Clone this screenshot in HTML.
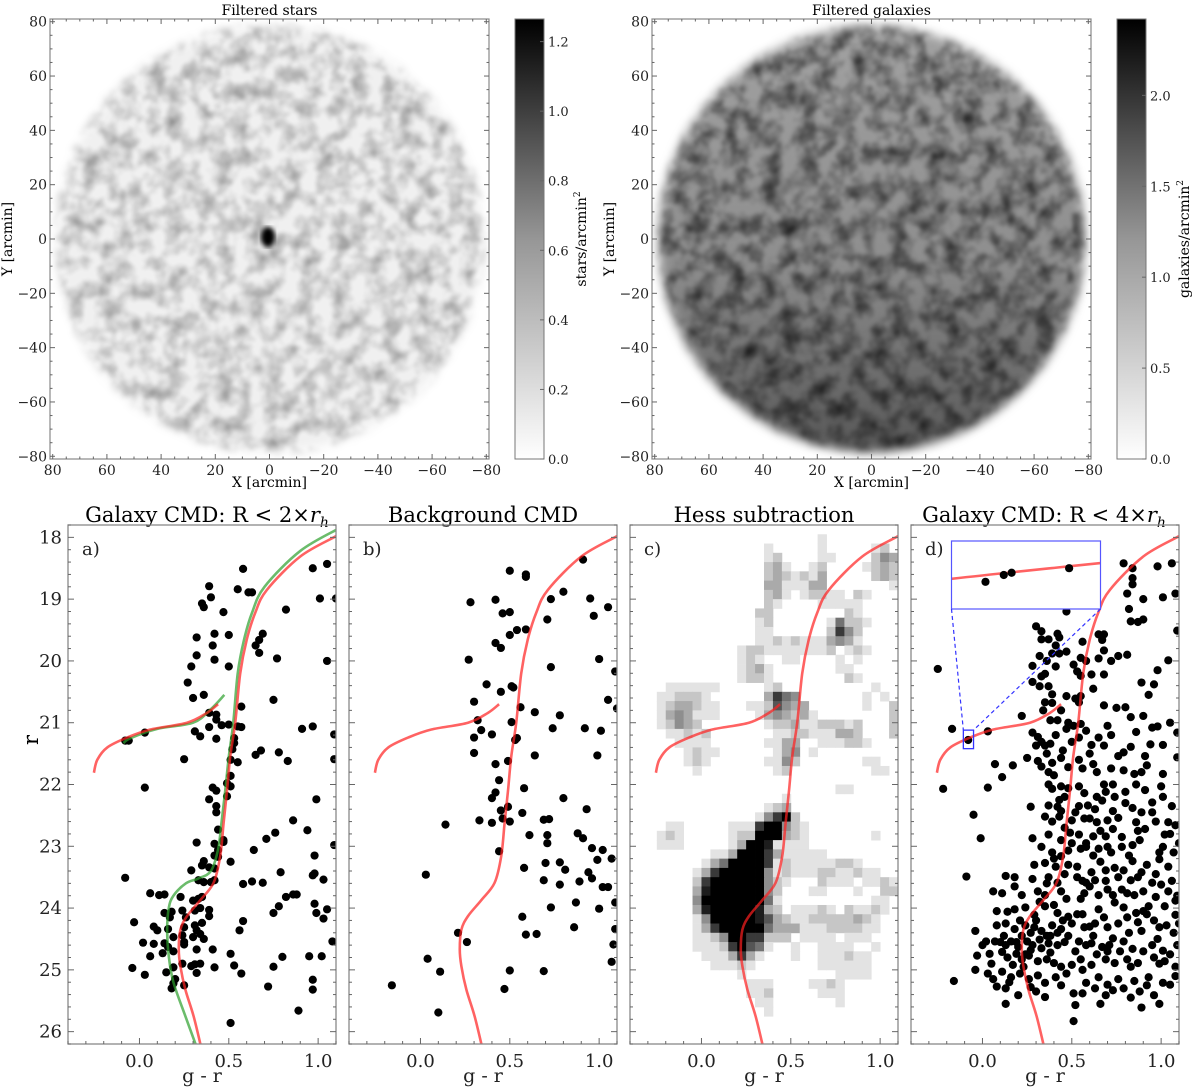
<!DOCTYPE html>
<html><head><meta charset="utf-8"><style>
html,body{margin:0;padding:0;background:#fff}
svg{display:block;font-family:"DejaVu Serif","Liberation Serif",serif}
</style></head><body>
<svg id="fig" width="1200" height="1091" viewBox="0 0 1200 1091" xmlns="http://www.w3.org/2000/svg">
<defs>
<filter id="noiseS" x="0" y="0" width="100%" height="100%"><feTurbulence type="fractalNoise" baseFrequency="0.06" numOctaves="3" seed="4"/><feColorMatrix type="matrix" values="0 0 0 0 0  0 0 0 0 0  0 0 0 0 0  -1.6 0 0 0 1.0"/><feGaussianBlur stdDeviation="1.5"/></filter>
<filter id="noiseG" x="0" y="0" width="100%" height="100%"><feTurbulence type="fractalNoise" baseFrequency="0.055" numOctaves="3" seed="9"/><feColorMatrix type="matrix" values="0 0 0 0 0  0 0 0 0 0  0 0 0 0 0  -1.8 0 0 0 1.15"/><feGaussianBlur stdDeviation="1.5"/></filter>
<filter id="soft"><feGaussianBlur stdDeviation="5"/></filter>
<filter id="soft2"><feGaussianBlur stdDeviation="2.5"/></filter>
<mask id="diskS"><circle cx="269.5" cy="239" r="213" fill="#fff" filter="url(#soft)"/></mask>
<mask id="diskG"><circle cx="871.5" cy="239" r="213" fill="#fff" filter="url(#soft)"/></mask>
<linearGradient id="cbar" x1="0" y1="1" x2="0" y2="0"><stop offset="0" stop-color="#fff"/><stop offset="0.5" stop-color="#969696"/><stop offset="1" stop-color="#000"/></linearGradient>
<linearGradient id="galGrad" x1="0" y1="0" x2="0" y2="1"><stop offset="0" stop-color="#a2a2a2"/><stop offset="0.55" stop-color="#8e8e8e"/><stop offset="1" stop-color="#555"/></linearGradient>
</defs>
<g>
<g mask="url(#diskS)">
<rect x="50" y="19" width="439" height="440" fill="#f0f0f0"/>
<rect x="50" y="19" width="439" height="440" filter="url(#noiseS)" opacity="0.45"/>
</g>
<ellipse cx="268" cy="237" rx="7" ry="10" fill="#000" filter="url(#soft2)"/>
</g>
<g>
<g mask="url(#diskG)">
<rect x="652" y="19" width="439" height="440" fill="url(#galGrad)"/>
<rect x="652" y="19" width="439" height="440" filter="url(#noiseG)" opacity="0.75"/>
</g>
</g>
<rect x="515" y="19" width="29" height="440" fill="url(#cbar)" stroke="#777"/>
<rect x="1117" y="19" width="29" height="440" fill="url(#cbar)" stroke="#777"/>
<text x="269.5" y="15" font-size="14" text-anchor="middle">Filtered stars</text>
<text x="871.5" y="15" font-size="14" text-anchor="middle">Filtered galaxies</text>
<text transform="translate(586,239) rotate(-90)" font-size="14" text-anchor="middle">stars/arcmin<tspan font-size="9" dy="-6">2</tspan></text>
<text transform="translate(1189,239) rotate(-90)" font-size="14" text-anchor="middle">galaxies/arcmin<tspan font-size="9" dy="-6">2</tspan></text>
<text x="269.5" y="487" font-size="14" text-anchor="middle">X [arcmin]</text>
<text x="871.5" y="487" font-size="14" text-anchor="middle">X [arcmin]</text>
<text transform="translate(12,239) rotate(-90)" font-size="14" text-anchor="middle">Y [arcmin]</text>
<text transform="translate(614,239) rotate(-90)" font-size="14" text-anchor="middle">Y [arcmin]</text>
<text x="207" y="522" font-size="21" text-anchor="middle">Galaxy CMD: R &lt; 2×<tspan font-style="italic">r</tspan><tspan font-style="italic" font-size="14" dy="5">h</tspan></text>
<text x="483" y="522" font-size="21" text-anchor="middle">Background CMD</text>
<text x="764" y="522" font-size="21" text-anchor="middle">Hess subtraction</text>
<text x="1044" y="522" font-size="21" text-anchor="middle">Galaxy CMD: R &lt; 4×<tspan font-style="italic">r</tspan><tspan font-style="italic" font-size="14" dy="5">h</tspan></text>
<text transform="translate(38,740) rotate(-90)" font-size="21" text-anchor="middle">r</text>
<g id="plots"></g>
</svg>
<script>
// ---- data ----
const isoGR=[1.12,1.10,0.90,0.713,0.648,0.60,0.564,0.536,0.508,0.49,0.471,0.452,0.415,0.341,0.266,0.229,0.22,0.229,0.257,0.303,0.345];
const isoR=[17.92,17.98,18.31,18.85,19.22,19.66,20.2,21.0,21.55,22.1,22.62,23.16,23.59,23.87,24.13,24.35,24.67,24.94,25.32,25.75,26.25];
const hbGR=[0.44,0.378,0.266,0.061,-0.069,-0.18,-0.236,-0.255];
const hbR=[20.7,20.84,21.0,21.11,21.24,21.4,21.6,21.81];
const grnGR=[1.12,0.90,0.70,0.63,0.585,0.55,0.525,0.50,0.48,0.46,0.44,0.40,0.33,0.26,0.19,0.164,0.155,0.164,0.19,0.257,0.32];
const grnR=[17.85,18.22,18.8,19.22,19.66,20.2,21.0,21.55,22.1,22.6,23.05,23.4,23.52,23.6,23.8,24.0,24.35,24.78,25.2,25.75,26.25];
const grnHbGR=[0.475,0.40,0.30,0.10,-0.05,-0.09];
const grnHbR=[20.55,20.78,21.0,21.1,21.25,21.33];
const starsA=[[.58,18.51],[.39,18.79],[.40,18.97],[.55,18.84],[.61,18.89],[.63,18.89],[.97,18.50],[1.05,18.43],[1.01,18.99],[1.10,18.99],[.35,19.07],[.36,19.13],[.47,19.21],[.82,19.17],[.32,19.62],[.42,19.56],[.41,19.75],[.50,19.58],[.69,19.56],[.67,19.66],[.65,19.75],[.67,19.87],[.32,19.91],[.42,19.98],[.50,20.09],[.29,20.09],[.77,19.96],[1.05,20.0],[.27,20.35],[.30,20.6],[.36,20.55],[.75,20.63],[.57,20.74],[.39,20.84],[.43,20.87],[.43,20.95],[.46,21.04],[.39,21.07],[.50,21.03],[.55,21.06],[.57,21.07],[.31,21.14],[.34,21.22],[.43,21.26],[.53,21.25],[.53,21.33],[.52,21.43],[.51,21.6],[.55,21.64],[.65,21.52],[.68,21.45],[.78,21.48],[.83,21.62],[.91,21.1],[.97,21.06],[1.09,21.19],[1.09,21.59],[.25,21.59],[.03,21.16],[-.08,21.29],[-.06,21.29],[.51,21.86],[.49,21.98],[.51,22.03],[.03,22.05],[.41,22.05],
[.39,22.24],[.43,22.35],[.43,22.45],[.43,22.1],[.49,22.19],[.99,22.24],[.86,22.58],[.94,22.74],[.76,22.78],[.71,22.88],[.44,22.73],[.47,22.9],[.47,22.93],[.32,22.94],[.42,22.96],[.64,23.06],[.98,23.15],[1.09,22.98],[.42,23.15],[.44,23.06],[.44,23.17],[.51,23.25],[.36,23.24],[.35,23.31],[.39,23.34],[.42,23.36],[.29,23.39],[-.08,23.51],[.33,23.55],[.36,23.58],[.40,23.58],[.42,23.55],[.58,23.61],[.63,23.57],[.69,23.59],[.79,23.42],[.97,23.47],[.98,23.44],[1.03,23.54],[.06,23.76],[.11,23.79],[.14,23.78],[.23,23.82],[.35,23.82],[.33,23.85],[.30,23.88],[.82,23.82],[.86,23.78],[.88,23.78],[.78,23.97],[.75,24.08],[.98,23.93],[.99,24.08],[1.05,24.02],[1.03,24.17],[.58,24.21],[.56,24.36],[-.03,24.23],[.14,24.08],[.17,24.15],[.18,24.06],[.24,24.04],[.26,24.15],[.31,24.04],[.34,24.0],[.39,24.03],[.39,24.13],[.08,24.3],[.10,24.36],[.16,24.34],[.19,24.47],[.25,24.31],[.24,24.44],[.31,24.28],[.32,24.36],[.35,24.24],[.34,24.42],[.36,24.5],[.30,24.47],[.25,24.55],[.02,24.56],[.08,24.58],[.14,24.57],[.16,24.63],[.13,24.73],[.06,24.78],[.19,24.7],[.25,24.59],[.32,24.67],[.41,24.67],[.51,24.74],[.24,24.9],[.29,24.94],[.31,24.91],[.34,24.9],[.42,24.96],[-.04,24.97],[.03,25.08],[.15,25.04],[.19,24.96],[.20,25.15],[.32,25.05],[.53,24.93],[.57,25.06],[.19,25.22],[.18,25.3],[.25,25.25],[.72,25.27],[.75,24.95],[.80,24.79],[.97,25.16],[.97,25.32],[1.02,24.78],[.95,24.78],[1.08,24.54],[.89,25.66],[.51,25.86]];
const starsB=[[.91,18.36],[.50,18.54],[.59,18.60],[.59,18.64],[.80,18.88],[.28,19.05],[.42,19.01],[.73,19.0],[.95,18.99],[1.05,19.13],[.50,19.21],[.46,19.23],[.97,19.27],[.71,19.33],[.54,19.5],[.59,19.49],[.50,19.58],[.42,19.71],[.45,19.79],[.27,19.98],[1.0,19.97],[.73,20.1],[1.09,20.17],[.37,20.38],[.51,20.41],[.52,20.43],[.45,20.5],[.30,20.66],[.56,20.75],[.64,20.83],[.78,20.88],[1.05,20.63],[1.10,20.77],[.32,20.96],[.51,20.99],[.34,21.12],[.30,21.24],[.40,21.19],[.54,21.25],[.53,21.28],[.74,21.09],[.92,21.09],[1.01,21.13],[.30,21.49],[.64,21.53],[.99,21.53],[.42,21.67],[.49,21.62],[.44,21.93],[.42,22.13],[.40,22.22],[.58,22.06],[.80,22.22],[.49,22.36],[.45,22.42],[.46,22.55],[.50,22.6],[.57,22.46],[.93,22.4],[.14,22.65],[.33,22.58],[.40,22.62],[.69,22.57],[.72,22.56],[.61,22.82],[.71,22.82],[.71,22.95],[.88,22.79],[.91,22.87],[.44,23.08],[.96,23.03],[1.02,23.06],[.99,23.22],[1.07,23.2],[.58,23.35],[.70,23.27],[.78,23.26],[.81,23.38],[.03,23.46],[.69,23.55],[.78,23.62],[.89,23.57],[.94,23.42],[.96,23.52],[1.02,23.66],[1.05,23.66],[.87,23.91],[.73,23.99],[1.0,24.01],[1.09,23.91],[.57,24.14],[.86,24.31],[1.09,24.34],[.21,24.4],[.59,24.43],[.65,24.42],[.26,24.55],[1.08,24.59],[.04,24.82],[.11,25.03],[.50,25.01],[.69,25.02],[1.07,24.87],[-.16,25.25],[.47,25.31],[.10,25.69]];
const starsD=[[.79,18.42],[.84,18.5],[.84,18.66],[.84,18.76],[.98,18.47],[1.06,18.42],[1.08,18.91],[.81,18.91],[1.01,18.97],[.90,19.0],[.82,19.16],[.83,19.36],[.87,19.37],[.90,19.33],[1.09,19.51],[.47,19.2],[.30,19.44],[.33,19.52],[.33,19.65],[.37,19.65],[.42,19.56],[.43,19.62],[.41,19.75],[.65,19.57],[.68,19.57],[.67,19.66],[.68,19.83],[.56,19.69],[.32,19.92],[.39,19.88],[.43,19.88],[.55,19.95],[.58,20.0],[.65,19.96],[.76,19.92],[.81,19.9],[1.04,19.99],[.28,20.08],[.35,20.21],[.33,20.25],[.41,20.09],[.51,20.06],[.53,20.17],[.55,20.24],[.61,20.22],[.68,20.22],[.89,20.35],[-.25,20.13],[.28,20.34],[.32,20.41],[.37,20.41],[.39,20.54],[.47,20.57],[.52,20.61],[.54,20.67],[.55,20.57],[.35,20.67],[.39,20.68],[.68,20.72],[.75,20.76],[.96,20.38],[.22,20.89],[.38,20.96],[.42,20.96],[.48,21.0],[.51,21.05],[.55,21.02],[.58,21.13],[.70,21.05],[.83,20.91],[.90,20.89],[.95,21.08],[.98,21.06],[1.09,21.16],[-.17,21.1],[.03,21.14],[-.08,21.28],[.28,21.16],[.31,21.23],[.33,21.31],[.38,21.34],[.30,21.37],[.35,21.37],[.50,21.31],[.54,21.24],[.61,21.36],[.65,21.24],[.68,21.37],[.76,21.54],[.79,21.48],[.83,21.39],[.91,21.54],[1.01,21.36],[1.09,21.56],[-.22,22.07],[.07,21.67],[.17,21.69],[.11,21.88],[.25,21.57],[.31,21.62],[.33,21.71],[.39,21.65],[.44,21.57],[.48,21.72],[.54,21.6],[.56,21.74],[.62,21.67],[.64,21.8],[.72,21.74],[.79,21.77],[.85,21.83],[.89,21.8],[.92,21.69],[1.01,21.83],[.03,22.05],[.37,22.0],[.39,22.07],[.44,22.03],[.48,22.06],[.54,22.03],[.57,22.14],[.69,22.12],[.73,22.0],[.80,22.12],[.91,22.09],[1.0,22.03],[-.05,22.49],[.27,22.36],[.37,22.34],[.42,22.36],[.44,22.43],[.54,22.35],[.59,22.34],[.63,22.4],[.67,22.26],[.73,22.43],[.84,22.38],[.95,22.29],[1.01,22.2],[.35,22.52],[.43,22.52],[.50,22.58],[.57,22.55],[.64,22.61],[.70,22.58],[.76,22.54],[.86,22.61],[.91,22.72],[1.04,22.61],[1.08,22.66],[-.01,22.87],[.28,22.87],[.37,22.81],[.44,22.9],[.54,22.81],[.49,22.78],[.62,22.84],[.69,22.84],[.73,22.72],[.87,22.75],[1.02,22.81],[.33,23.01],[.39,23.1],[.44,23.16],[.48,23.07],[.55,23.04],[.58,23.01],[.65,23.04],[.70,23.01],[.78,23.01],[.84,22.98],[.99,23.1],[1.01,23.01],[1.10,22.95],[.29,23.3],[.35,23.27],[.41,23.33],[.48,23.3],[.53,23.33],[.61,23.42],[.69,23.39],[.79,23.39],[.84,23.24],[.89,23.42],[.99,23.21],[1.04,23.33],[-.09,23.49],[.13,23.48],[.18,23.5],[.28,23.53],[.37,23.5],[.42,23.59],[.56,23.56],[.58,23.59],[.69,23.56],[.76,23.5],[.87,23.5],[.95,23.59],[1.0,23.62],[1.06,23.56],[.06,23.73],[.11,23.76],[.22,23.79],[.31,23.73],[.35,23.79],[.44,23.73],[.57,23.76],[.65,23.79],[.73,23.79],[.81,23.76],[.85,23.79],[.90,23.73],[.97,23.82],[1.04,23.73],[1.08,23.88],[.14,24.06],[.18,24.02],[.24,23.99],[.29,24.11],[.35,23.97],[.42,24.08],[.48,24.14],[.65,24.02],[.74,23.91],[.79,23.99],[.86,24.08],[.93,23.97],[1.02,23.97],[1.08,24.11],[.08,24.28],[.13,24.25],[.18,24.34],[.24,24.28],[.29,24.31],[.33,24.37],[.39,24.28],[.44,24.34],[.50,24.25],[.57,24.31],[.63,24.25],[.70,24.31],[.76,24.25],[.87,24.23],[.89,24.37],[.99,24.31],[1.03,24.28],[-.04,24.37],[.02,24.54],[.07,24.54],[.13,24.6],[.16,24.54],[.20,24.63],[.25,24.54],[.28,24.6],[.32,24.51],[.37,24.57],[.42,24.6],[.48,24.45],[.54,24.54],[.61,24.57],[.67,24.63],[.73,24.49],[.79,24.54],[.84,24.66],[.95,24.6],[1.01,24.69],[1.09,24.6],[-.03,24.77],[.04,24.74],[.11,24.71],[.14,24.8],[.19,24.74],[.22,24.83],[.26,24.77],[.31,24.86],[.36,24.83],[.40,24.89],[.44,24.95],[.50,24.92],[.55,24.83],[.61,24.92],[.69,24.83],[.74,24.89],[.81,24.83],[.87,24.89],[.96,24.8],[1.02,24.86],[1.08,24.95],[-.04,25.0],[.03,25.06],[.11,25.03],[.16,25.12],[.21,25.06],[.26,25.15],[.31,25.09],[.35,25.21],[.41,25.12],[.47,25.06],[.58,25.21],[.65,25.12],[.70,25.24],[.76,25.15],[.85,25.18],[.93,25.12],[1.01,25.21],[1.05,25.24],[-.16,25.18],[.08,25.27],[.13,25.3],[.20,25.41],[.30,25.35],[.35,25.44],[.51,25.38],[.56,25.38],[.69,25.41],[.73,25.33],[.88,25.35],[.96,25.41],[.13,25.55],[.52,25.57],[.89,25.61],[.51,25.83],
[.36,24.45],[.30,24.2],[.22,24.45],[.27,24.68],[.12,24.45],[.05,24.9],[.17,24.92],[.24,24.75],[.38,24.72],[.45,24.2],[.40,23.95],[.46,23.45],[.50,22.95],[.52,22.45],[.46,22.2],[.40,21.85],[.36,21.5],[.45,21.45],[.58,22.95],[.66,23.25],[.78,23.7],[.92,24.1],[.98,24.5],[.82,24.4],[.70,24.7],[.62,24.45],[.56,24.1],[.60,23.65],[.72,23.1],[.88,22.9],[.95,22.45],[.68,22.0],[.60,21.5],[.47,21.1],[.44,20.8],[.36,20.0],[.47,19.85],
[.34,20.8],[.41,21.2],[.37,21.8],[.43,22.25],[.39,22.6],[.46,22.7],[.40,23.2],[.36,23.6],[.32,23.9],[.27,24.4],[.21,24.2],[.10,24.55],[.19,24.55],[.23,24.95],[.33,24.65],[.38,24.45],[.46,24.55],[.52,24.7],[.58,24.6],[.64,24.75],[.71,24.6],[.77,24.7],[.83,24.95],[.90,24.7],[.99,24.9],[1.05,24.75],[1.07,24.4],[.96,24.2],[.90,24.05],[.81,24.15],[.68,24.15],[.60,24.3],[.53,24.1],[.55,23.85],[.63,23.55],[.70,23.7],[.83,23.55],[.92,23.3],[.97,23.45],[1.07,23.1],[1.05,22.8],[.97,22.6],[.89,22.45],[.80,22.3],[.74,22.2],[.64,22.2],[.60,22.55],[.66,22.75],[.78,22.85],[.82,23.15],[.74,23.35],[.62,23.15],[.53,23.5],[.47,23.85],[.42,24.4],[.56,25.0],[.63,25.3],[.79,25.3],[.92,25.25],[1.08,25.1],[.99,25.55],[.83,25.45],[.66,25.55],[.44,25.25],[.27,25.28],[.15,25.2],[.06,25.15],[.00,24.6],[.08,24.05],[.18,23.65],[.72,21.2],[.86,21.15],[.94,21.35],[1.05,21.0],[.80,20.75],[.62,20.45],[.72,20.0],[.93,20.55],[.98,20.15],[.86,22.0],[1.06,22.35],[1.09,23.8],[1.10,24.25]];
const insetPts=[[-.094,21.30],[-.087,21.27],[-.084,21.26],[-.062,21.24]];
const hessRows=[
"000000000000000000000000000000",
"000000000000000000000100000000",
"000000000000000100000100000120",
"000000000000000120000110000243",
"000000000000000231001200001232",
"000000000000000232121300000232",
"000000000000000331113300000001",
"000000000000000231012211021000",
"000000000000000210000111110000",
"000000000000002200000000210000",
"000000000000001200000015221000",
"000000000000001100000027420000",
"000000000000001121211134310000",
"000000000000122111111120121000",
"000000000000121001100001010000",
"000000000000123100000001100000",
"000000000000122100000000210000",
"000011111100000120000000000100",
"000112221000000375400000001010",
"000123321100011264330000001002",
"000134311100001343231000000002",
"000124320000000122311222120002",
"000011212000000011221113320002",
"000001111000000113300111221000",
"000000121100000013401000000000",
"000000121000000114200000001100",
"000000010000000012000000000110",
"000000000000000000000000000000",
"000000000000000000000001100000",
"000000000000000001000000000000",
"000000000000000123000000000000",
"000000000000001479200000000000",
"000011000001117994210000000000",
"000121000001229993210000000100",
"000111000001399811110000000000",
"000000000113999731111100000000",
"000000001359999712111112210000",
"000000013799999412111221121100",
"000000027999999421000211101121",
"000000038999999420001100010022",
"000000049999999510000000000110",
"000000038999998320111210211210",
"000000014999998632112222232100",
"000000013799999533311122221100",
"000000011249977222011110111000",
"000000011127965100100111100100",
"000000001113731000100111211000",
"000000000111210000000111111000",
"000000000000100000000001111000",
"000000000000011100001121000000",
"000000000000011200000111000000",
"000000000000001100000001000000",
"000000000000000100000000000000",
"000000000000000000000000000000",
"000000000000000000000000000000",
"000000000000000000000000000000"];
const xTicks=[0.0,0.5,1.0];
const xTickLabels=["0.0","0.5","1.0"];
const yTicks=[18,19,20,21,22,23,24,25,26];
const mapTicks=[80,60,40,20,0,-20,-40,-60,-80];
const cbStarTicks=[0.0,0.2,0.4,0.6,0.8,1.0,1.2];
const cbGalTicks=[0.0,0.5,1.0,1.5,2.0];
const panelLabels=["a)","b)","c)","d)"];

// ---- helpers ----
const NS="http://www.w3.org/2000/svg";
const root=document.getElementById('plots');
function mk(tag,attrs,parent){const e=document.createElementNS(NS,tag);for(const k in attrs)e.setAttribute(k,attrs[k]);(parent||root).appendChild(e);return e;}
const W=268,T=525,B=1044,lefts=[68,349,630,911];
const G0=-0.4,G1=1.1,R0=17.8,R1=26.2;
function X(p,g){return lefts[p]+(g-G0)/(G1-G0)*W;}
function Y(r){return T+(r-R0)/(R1-R0)*(B-T);}
function smoothPath(pts){
  let d="M"+pts[0][0].toFixed(2)+","+pts[0][1].toFixed(2);
  for(let i=0;i<pts.length-1;i++){
    const p0=pts[Math.max(0,i-1)],p1=pts[i],p2=pts[i+1],p3=pts[Math.min(pts.length-1,i+2)];
    const c1=[p1[0]+(p2[0]-p0[0])/6,p1[1]+(p2[1]-p0[1])/6],c2=[p2[0]-(p3[0]-p1[0])/6,p2[1]-(p3[1]-p1[1])/6];
    d+="C"+c1[0].toFixed(2)+","+c1[1].toFixed(2)+" "+c2[0].toFixed(2)+","+c2[1].toFixed(2)+" "+p2[0].toFixed(2)+","+p2[1].toFixed(2);
  }
  return d;
}
function curve(p,gs,rs,color,name,parent,fx,fy){
  const pts=gs.map((g,i)=>[fx?fx(g):X(p,g),fy?fy(rs[i]):Y(rs[i])]);
  const el=mk('path',{d:smoothPath(pts),fill:'none',stroke:color,'stroke-width':2.6,'stroke-opacity':0.7},parent);
  
  
  return el;
}
const defs=document.querySelector('defs');

// ---- CMD panels ----
for(let p=0;p<4;p++){
  const g=mk('g',{});
  
  
  const cp=mk('clipPath',{id:'clip'+p},defs);
  mk('rect',{x:lefts[p],y:T,width:W,height:B-T},cp);
  const inner=mk('g',{'clip-path':'url(#clip'+p+')'},g);
  if(p===2){
    const hg=mk('g',{},inner);
    
    
    hessRows.forEach((row,ri)=>{
      for(let ci=0;ci<row.length;ci++){
        const v=+row[ci]; if(!v) continue;
        const g0=G0+ci*0.05,r0=R0+ri*0.15;
        const c=Math.round(255-v*28.3);
        const cell=mk('rect',{x:X(2,g0).toFixed(2),y:Y(r0).toFixed(2),width:(X(2,g0+0.05)-X(2,g0)+0.4).toFixed(2),height:(Y(r0+0.15)-Y(r0)+0.4).toFixed(2),fill:`rgb(${c},${c},${c})`},hg);
        
        
      }
    });
  }
  const pts=p===0?starsA:p===1?starsB:p===3?starsD:[];
  const sg=mk('g',{},inner);
  
  
  pts.forEach(s=>{
    const c=mk('circle',{cx:X(p,s[0]).toFixed(2),cy:Y(s[1]).toFixed(2),r:4.1,fill:'#000'},sg);
    
    
  });
  if(p===0){
    curve(p,grnGR,grnR,'#2ca02c','green-isochrone',inner);
    curve(p,grnHbGR,grnHbR,'#2ca02c','green-horizontal-branch',inner);
  }
  curve(p,isoGR,isoR,'#ff2020','red-isochrone',inner);
  curve(p,hbGR,hbR,'#ff2020','red-horizontal-branch',inner);
  const fr=mk('rect',{x:lefts[p],y:T,width:W,height:B-T,fill:'none',stroke:'#888','stroke-width':1.3},g);
  
  
  for(let gv=-0.4;gv<=1.1001;gv+=0.1){
    const major=xTicks.some(t=>Math.abs(t-gv)<1e-6);
    const x=X(p,gv);
    mk('line',{x1:x,x2:x,y1:B,y2:B-(major?6:3),stroke:'#666'},g);
  }
  xTicks.forEach((t,i)=>{
    const tl=mk('text',{x:X(p,t),y:B+23,'font-size':18,'text-anchor':'middle',fill:'#222'},g);
    tl.textContent=xTickLabels[i];
    
    
  });
  for(let rv=17.8;rv<=26.2001;rv+=0.2){
    const major=Math.abs(rv-Math.round(rv))<1e-6;
    const y=Y(rv);
    mk('line',{x1:lefts[p],x2:lefts[p]+(major?6:3),y1:y,y2:y,stroke:'#666'},g);
    mk('line',{x1:lefts[p]+W,x2:lefts[p]+W-(major?6:3),y1:y,y2:y,stroke:'#666'},g);
  }
  if(p===0){
    yTicks.forEach(t=>{
      const tl=mk('text',{x:lefts[0]-6,y:Y(t)+6,'font-size':18,'text-anchor':'end',fill:'#222'},g);
      tl.textContent=String(t);
      
      
    });
  }
  const xl=mk('text',{x:lefts[p]+W/2,y:1082,'font-size':19,'text-anchor':'middle',fill:'#222'},g);
  xl.textContent='g - r';
  
  
  const pl=mk('text',{x:lefts[p]+14,y:T+30,'font-size':18,fill:'#222'},g);
  pl.textContent=panelLabels[p];
  
  
}

// ---- inset in panel d ----
const insG0=-0.107,insG1=-0.05,insR0=21.12,insR1=21.42;
const IX0=951.5,IX1=1100.5,IY0=541,IY1=609;
function IX(g){return IX0+(g-insG0)/(insG1-insG0)*(IX1-IX0);}
function IY(r){return IY0+(r-insR0)/(insR1-insR0)*(IY1-IY0);}
const ig=mk('g',{});


const icp=mk('clipPath',{id:'clipInset'},defs);
mk('rect',{x:IX0,y:IY0,width:IX1-IX0,height:IY1-IY0},icp);
const ibg=mk('rect',{x:IX0,y:IY0,width:IX1-IX0,height:IY1-IY0,fill:'#fff'},ig);


const iin=mk('g',{'clip-path':'url(#clipInset)'},ig);
curve(3,hbGR,hbR,'#ff2020','inset-horizontal-branch',iin,IX,IY);
insetPts.forEach(s=>{
  const c=mk('circle',{cx:IX(s[0]).toFixed(2),cy:IY(s[1]).toFixed(2),r:4.1,fill:'#000'},iin);
  
  
});
const ifr=mk('rect',{x:IX0,y:IY0,width:IX1-IX0,height:IY1-IY0,fill:'none',stroke:'#5555ff','stroke-width':1.2},ig);


const zb=mk('rect',{x:X(3,insG0),y:Y(insR0),width:X(3,insG1)-X(3,insG0),height:Y(insR1)-Y(insR0),fill:'none',stroke:'#3333ff','stroke-width':1.3},ig);


const d1=mk('line',{x1:IX0,y1:IY1,x2:X(3,insG0),y2:Y(insR0),stroke:'#3333ff','stroke-dasharray':'4,3','stroke-width':1.2},ig);


const d2=mk('line',{x1:IX1,y1:IY1,x2:X(3,insG1),y2:Y(insR0),stroke:'#3333ff','stroke-dasharray':'4,3','stroke-width':1.2},ig);



// ---- top maps axes ----
const mapLefts=[50,652],MW=439,MT=19,MH=440;
function MX(m,v){return mapLefts[m]+(81-v)/162*MW;}
function MY(v){return MT+(81-v)/162*MH;}
for(let m=0;m<2;m++){
  const g=mk('g',{});
  
  
  const fr=mk('rect',{x:mapLefts[m],y:MT,width:MW,height:MH,fill:'none',stroke:'#888','stroke-width':1.2},g);
  
  
  for(let v=-80;v<=80;v+=5){
    const major=v%20===0, L=major?5:2.5;
    const x=MX(m,v),y=MY(v);
    mk('line',{x1:x,x2:x,y1:MT+MH,y2:MT+MH-L,stroke:'#666'},g);
    mk('line',{x1:x,x2:x,y1:MT,y2:MT+L,stroke:'#666'},g);
    mk('line',{x1:mapLefts[m],x2:mapLefts[m]+L,y1:y,y2:y,stroke:'#666'},g);
    mk('line',{x1:mapLefts[m]+MW,x2:mapLefts[m]+MW-L,y1:y,y2:y,stroke:'#666'},g);
  }
  mapTicks.forEach(t=>{
    const lab=(t<0?'\u2212':'')+Math.abs(t);
    const tx=mk('text',{x:MX(m,t),y:MT+MH+16,'font-size':14,'text-anchor':'middle',fill:'#222'},g);
    tx.textContent=lab;
    
    
    const ty=mk('text',{x:mapLefts[m]-3,y:MY(t)+5,'font-size':14,'text-anchor':'end',fill:'#222'},g);
    ty.textContent=lab;
    
    
  });
  const cbx=m?1146:544, ticks=m?cbGalTicks:cbStarTicks, vmax=m?2.42:1.265;
  ticks.forEach(t=>{
    const y=MT+MH-(t/vmax)*MH;
    mk('line',{x1:cbx,x2:cbx-4,y1:y,y2:y,stroke:'#666'},g);
    const tl=mk('text',{x:cbx+4,y:y+5,'font-size':13,fill:'#222'},g);
    tl.textContent=t.toFixed(1);
    
    
  });
}
</script>
</body></html>
